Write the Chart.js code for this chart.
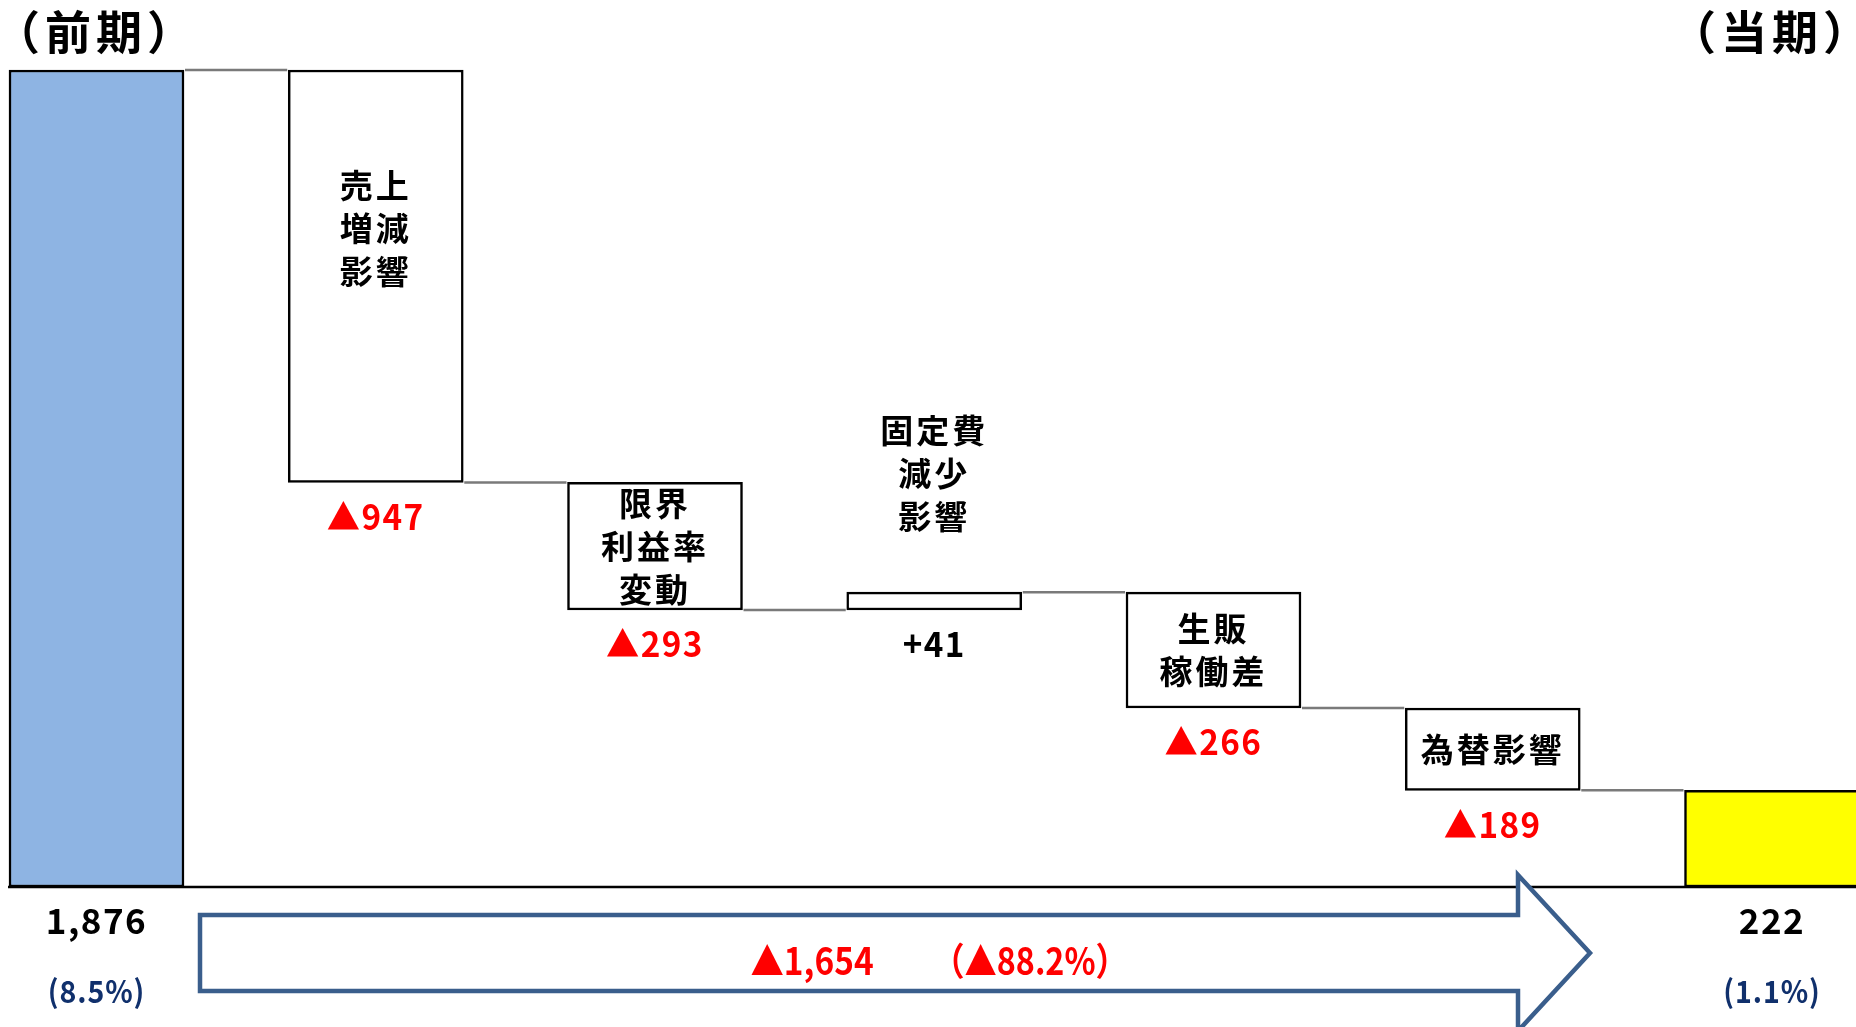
<!DOCTYPE html>
<html><head><meta charset="utf-8">
<script src="https://cdn.jsdelivr.net/npm/chart.js@4"></script>
<style>html,body{margin:0;padding:0;background:#fff;overflow:hidden}#wrap{width:1856px;height:1027px;position:relative}</style>
</head><body><div id="wrap"><canvas id="c"></canvas></div>
<script>
// ---- data ----
const categories = ['前期','売上増減影響','限界利益率変動','固定費減少影響','生販稼働差','為替影響','当期'];
const categoryLines = [[], ['売上','増減','影響'], ['限界','利益率','変動'], ['固定費','減少','影響'], ['生販','稼働差'], ['為替影響'], []];
const startValue = 1876;
const deltas = [-947, -293, 41, -266, -189];
const endValue = 222;
const periodTitles = ['（前期）', '（当期）'];
const marginRates = ['8.5%', '1.1%'];
const totalChange = -1654;
const totalChangeRate = -88.2;

// ---- build ----
const FONT = '"Noto Sans CJK JP","Noto Sans",sans-serif';
const ranges = [[0, startValue]];
let lvl = startValue;
deltas.forEach(d => { ranges.push([lvl, lvl + d]); lvl += d; });
ranges.push([0, endValue]);
const levels = [startValue]; { let l = startValue; deltas.forEach(d => { l += d; levels.push(l); }); }
const fmtNum = v => Math.abs(v).toLocaleString('en-US');
const fmtDelta = v => v < 0 ? '▲' + fmtNum(v) : '+' + fmtNum(v);
const fills = categories.map((c, i) => i === 0 ? '#8EB4E3' : (i === categories.length - 1 ? '#FFFF00' : '#FFFFFF'));

function txt(ctx, s, x, y, font, color, align, ls, sx) {
  ctx.save();
  ctx.font = font; ctx.fillStyle = color; ctx.textAlign = align || 'center'; ctx.textBaseline = 'middle';
  if ('letterSpacing' in ctx) ctx.letterSpacing = (ls || 0) + 'px';
  ctx.translate(x, y);
  if (sx) ctx.scale(sx, 1);
  ctx.fillText(s, 0, 0);
  ctx.restore();
}

const deco = {
  id: 'deco',
  afterDatasetsDraw(chart) {
    const ctx = chart.ctx;
    const meta = chart.getDatasetMeta(0);
    const ys = chart.scales.y;
    const bars = meta.data;
    // connectors
    ctx.save();
    ctx.strokeStyle = '#7a7a7a'; ctx.lineWidth = 2.5;
    for (let i = 0; i < bars.length - 1; i++) {
      const a = bars[i], b = bars[i + 1];
      const y = ys.getPixelForValue(levels[i]);
      ctx.beginPath();
      ctx.moveTo(a.x + a.width / 2 + 1, y);
      ctx.lineTo(b.x - b.width / 2 - 1, y);
      ctx.stroke();
    }
    ctx.restore();
    // baseline
    const y0 = ys.getPixelForValue(0);
    ctx.save();
    ctx.strokeStyle = '#000'; ctx.lineWidth = 2.5;
    ctx.beginPath(); ctx.moveTo(bars[0].x - bars[0].width / 2 - 1, y0); ctx.lineTo(chart.width, y0); ctx.stroke();
    ctx.restore();

    // period titles
    txt(ctx, periodTitles[0], 96, 32, 'bold 46px ' + FONT, '#000', 'center', 5);
    txt(ctx, periodTitles[1], 1772, 32, 'bold 46px ' + FONT, '#000', 'center', 5);

    // category labels & value labels
    const catFont = 'bold 33px ' + FONT;
    const valFont = 'bold 35px ' + FONT;
    for (let i = 1; i < bars.length - 1; i++) {
      const b = bars[i];
      const top = Math.min(b.y, b.base), bottom = Math.max(b.y, b.base);
      const h = bottom - top;
      const lines = categoryLines[i];
      const lh = 43;
      const blockH = (lines.length - 1) * lh;
      let cy;
      if (h >= lines.length * lh - 10) {
        cy = top + Math.min(h / 2, 158);
      } else {
        cy = top - 76 - blockH / 2;
      }
      lines.forEach((s, k) => txt(ctx, s, b.x, cy - blockH / 2 + k * lh, catFont, '#000', 'center', 3));
      const d = deltas[i - 1];
      txt(ctx, fmtDelta(d), b.x, bottom + 34, valFont, d < 0 ? '#FF0000' : '#000', 'center', 1.5, 0.95);
    }
    // start / end values
    const first = bars[0], last = bars[bars.length - 1];
    txt(ctx, startValue.toLocaleString('en-US'), first.x, 921, valFont, '#000', 'center', 1.5);
    txt(ctx, '(' + marginRates[0] + ')', first.x, 991, 'bold 31px ' + FONT, '#10306c', 'center', 1, 0.92);
    txt(ctx, endValue.toLocaleString('en-US'), last.x, 921, valFont, '#000', 'center', 1.5);
    txt(ctx, '(' + marginRates[1] + ')', last.x, 991, 'bold 31px ' + FONT, '#10306c', 'center', 1, 0.92);

    // big arrow
    const left = 200, bTop = 915, bBot = 991, hb = 1518, hTop = 875, hBot = 1031, tip = 1590, mid = 953;
    ctx.save();
    ctx.beginPath();
    ctx.moveTo(left, bTop); ctx.lineTo(hb, bTop); ctx.lineTo(hb, hTop); ctx.lineTo(tip, mid);
    ctx.lineTo(hb, hBot); ctx.lineTo(hb, bBot); ctx.lineTo(left, bBot); ctx.closePath();
    ctx.fillStyle = '#fff'; ctx.fill();
    ctx.strokeStyle = '#3A5E8C'; ctx.lineWidth = 4.5; ctx.lineJoin = 'miter'; ctx.stroke();
    ctx.restore();
    const part1 = fmtDelta(totalChange);
    const part2 = '（' + (totalChangeRate < 0 ? '▲' : '+') + Math.abs(totalChangeRate).toFixed(1) + '%）';
    txt(ctx, part1, 812, 961, 'bold 38px ' + FONT, '#FF0000', 'center', 0, 0.88);
    txt(ctx, part2, 1030, 961, 'bold 38px ' + FONT, '#FF0000', 'center', 0, 0.85);
  }
};

new Chart(document.getElementById('c'), {
  type: 'bar',
  data: {
    labels: categories,
    datasets: [{
      data: ranges.map((r, i) => ({ x: i, y: r })),
      backgroundColor: fills,
      borderColor: '#000',
      borderWidth: 2.5,
      borderSkipped: false,
      barThickness: 175,
      clip: false
    }]
  },
  options: {
    responsive: true,
    maintainAspectRatio: false,
    animation: false,
    devicePixelRatio: 1,
    layout: { padding: { left: 0, right: 0, top: 70, bottom: 140 } },
    plugins: { legend: { display: false }, tooltip: { enabled: false } },
    scales: {
      x: { type: 'linear', min: -0.34557, max: 6.30081, offset: false, display: false },
      y: { min: 0, max: startValue, display: false }
    }
  },
  plugins: [deco]
});
</script></body></html>
